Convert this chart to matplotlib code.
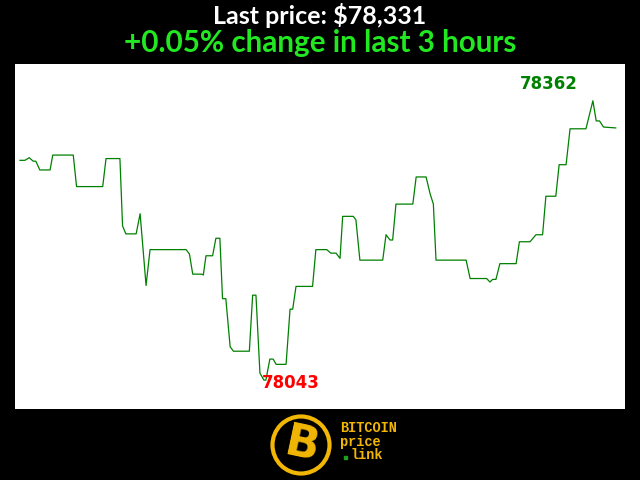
import numpy as np
import matplotlib
matplotlib.use("Agg")
import matplotlib.pyplot as plt
from matplotlib.patches import Circle

# minutes since start of the 3 hour window
minutes = [0, 1.5, 2.8, 4.0, 4.8, 6.0, 9.1, 9.9, 16.1, 17.1, 25.0, 26.0, 30.2, 31.0,
           32.0, 35.1, 36.3, 38.1, 39.3, 50.2, 51.2, 52.2, 54.9, 55.4, 56.2, 58.2,
           59.2, 60.4, 61.2, 62.2, 63.5, 64.5, 69.3, 70.3, 71.3, 72.5, 73.7, 74.3,
           75.5, 76.5, 77.4, 80.4, 81.6, 82.4, 83.4, 88.4, 89.4, 92.7, 93.9, 95.5,
           96.7, 97.5, 100.7, 101.5, 102.7, 109.6, 110.6, 111.8, 112.6, 113.6, 118.7,
           119.7, 122.7, 123.9, 124.9, 125.7, 134.8, 136.0, 141.0, 142.0, 142.8,
           143.8, 145.0, 149.9, 150.9, 154.1, 155.9, 157.9, 158.9, 161.9, 162.9,
           165.0, 166.2, 171.0, 173.1, 174.1, 175.1, 176.3, 180.0]
prices = [78294, 78294, 78297, 78293, 78293, 78283, 78283, 78300, 78300, 78264,
          78264, 78296, 78296, 78219, 78210, 78210, 78233, 78151, 78192, 78192,
          78187, 78164, 78164, 78163, 78185, 78185, 78205, 78205, 78136, 78136,
          78081, 78076, 78076, 78140, 78140, 78051, 78043, 78043, 78067, 78067,
          78061, 78061, 78124, 78124, 78150, 78150, 78192, 78192, 78188, 78188,
          78182, 78230, 78230, 78226, 78180, 78180, 78209, 78203, 78203, 78244,
          78244, 78275, 78275, 78256, 78244, 78180, 78180, 78159, 78159, 78155,
          78158, 78158, 78176, 78176, 78201, 78201, 78209, 78209, 78253, 78253,
          78289, 78289, 78330, 78330, 78362, 78339, 78339, 78332, 78331]

last_price = "$78,331"
change_text = "+0.05% change in last 3 hours"

fig = plt.figure(figsize=(6.4, 4.8), dpi=100, facecolor="black")
ax = fig.add_axes([15/640, 71/480, 610/640, 345/480])
ax.set_facecolor("white")
ax.plot(minutes, prices, color="#008000", lw=0.9)
ax.set_xlim(-1.5, 182.8)
ax.set_ylim(78010, 78404)
ax.set_xticks([])
ax.set_yticks([])
for s in ax.spines.values():
    s.set_visible(False)

# high / low labels
i_hi = int(np.argmax(prices))
i_lo = int(np.argmin(prices))
ax.annotate(str(prices[i_hi]), (minutes[i_hi], prices[i_hi]), xytext=(-44, 17),
            textcoords="offset pixels", ha="center", va="center",
            color="#008000", fontsize=12, fontweight="bold")
ax.annotate(str(prices[i_lo]), (minutes[i_lo], prices[i_lo]), xytext=(27, -3),
            textcoords="offset pixels", ha="center", va="center",
            color="#ff0000", fontsize=12, fontweight="bold")

# header
fig.text(0.5, 1 - 16/480, "Last price: " + last_price, color="white", ha="center",
         va="center", fontsize=18, fontweight="bold", family="Lato")
fig.text(0.5, 1 - 43/480, change_text, color="#22e822", ha="center",
         va="center", fontsize=21.3, fontweight="bold", family="Lato")

# logo
yellow = "#f2b705"
logo = fig.add_axes([270/640, 1 - 476/480, 62/640, 62/480])
logo.set_xlim(-1, 1)
logo.set_ylim(-1, 1)
logo.set_aspect("equal")
logo.axis("off")
logo.add_patch(Circle((0, 0), 0.92, facecolor="black", edgecolor=yellow, lw=3))
logo.text(0.02, -0.02, "B", color=yellow, fontsize=32, fontweight="bold",
          ha="center", va="center", rotation=-12, family="DejaVu Sans")
mono = dict(color=yellow, fontsize=9.8, fontweight="bold",
            family="Liberation Mono", va="center")
fig.text(340/640, 1 - 428/480, "BITCOIN", **mono)
fig.text(340/640, 1 - 442/480, "price", **mono)
fig.text(351/640, 1 - 455/480, "link", **mono)
fig.patches.append(plt.Rectangle((343.5/640, 1 - 459/480), 3/640, 3/480,
                                 transform=fig.transFigure, color="#1fa01f"))

fig.savefig("out.png", dpi=100, facecolor="black")
